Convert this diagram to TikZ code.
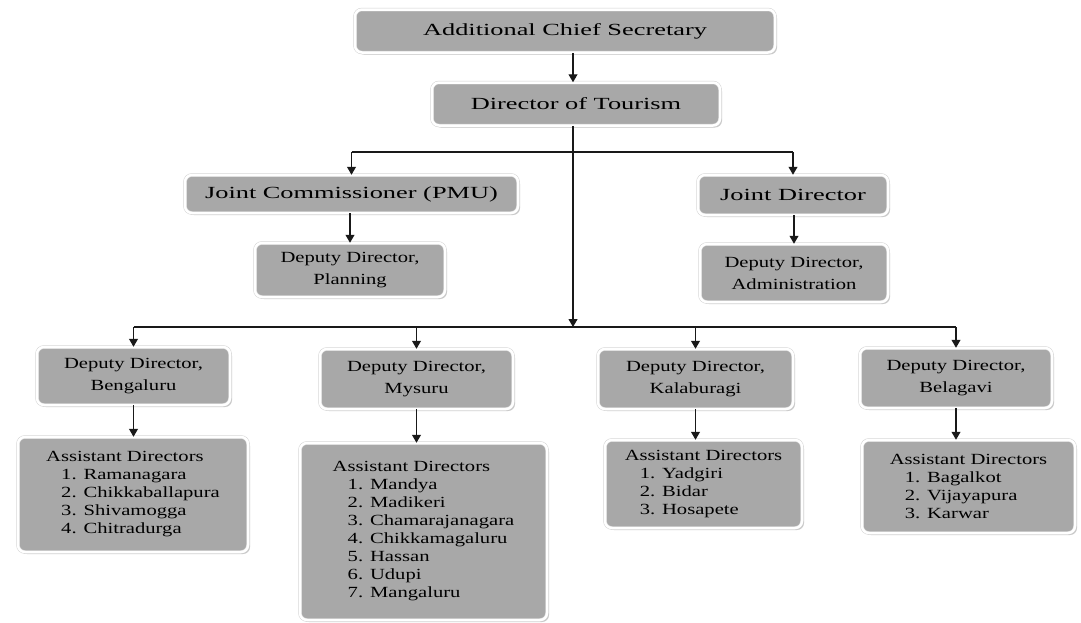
\documentclass[tikz,border=0pt]{standalone}
\usepackage{fontspec}
\setmainfont{Liberation Serif}[FakeStretch=1.33]
\newfontfamily\widefont{Liberation Serif}[FakeStretch=1.55]
\usetikzlibrary{arrows.meta, shadows, positioning}
\def\boxfill{black!34}
\def\topfont{\widefont\fontsize{17}{20}\selectfont}
\def\boxfont{\fontsize{15.5}{22}\selectfont}
\def\listfont{\fontsize{15.5}{18}\selectfont}
\def\listindent{\hspace*{15pt}}
\tikzset{
% Box
box/.style={
	rectangle, rounded corners=7pt,
	fill=\boxfill, draw=black!18, double=white, double distance=2.5pt, line width=0.5pt,
	drop shadow={shadow xshift=2pt, shadow yshift=-2pt, fill=black!35, opacity=0.6},
	inner sep=0pt, align=center,
	},
% Upper offices
topbox/.style={
	box, font=\topfont,
	},
% Deputy Directors
lowbox/.style={
	box, font=\boxfont,
	},
% Assistant Directors
listbox/.style={
	box, font=\listfont, align=left,
	},
% Connection
connection/.style={
	line width=1.1pt, black!90,
	},
% Arrow
arrow/.style={
	connection, -{Triangle[length=8pt, width=9pt]},
	},
}
\begin{document}
\begin{tikzpicture}[x=1pt, y=-1pt]
		\useasboundingbox (0,0) rectangle (1081,622);
		
		% Head office
		\node[topbox, minimum width=420pt, minimum height=43pt]
			 (acs) at (565,31) {Additional Chief Secretary};
		\node[topbox, minimum width=288pt, minimum height=43pt]
			 (dot) at (576,104) {Director of Tourism};
		
		% Joint offices
		\node[topbox, minimum width=333pt, minimum height=38pt]
			 (jc) at (351.5,194) {Joint Commissioner (PMU)};
		\node[topbox, minimum width=190pt, minimum height=40pt]
			 (jd) at (793,195) {Joint Director};
		\node[lowbox, minimum width=190pt, minimum height=54pt]
			 (planning) at (350,270) {Deputy Director,\\Planning};
		\node[lowbox, minimum width=188pt, minimum height=58pt]
			 (admin) at (794,273) {Deputy Director,\\Administration};
		
		% Deputy Directors
		\node[lowbox, minimum width=193pt, minimum height=58pt]
			 (ddbeng) at (133.5,376) {Deputy Director,\\Bengaluru};
		\node[lowbox, minimum width=193pt, minimum height=60pt]
			 (ddmys) at (416.5,379) {Deputy Director,\\Mysuru};
		\node[lowbox, minimum width=195pt, minimum height=60pt]
			 (ddkal) at (695.5,379) {Deputy Director,\\Kalaburagi};
		\node[lowbox, minimum width=192pt, minimum height=60pt]
			 (ddbel) at (956,378) {Deputy Director,\\Belagavi};
		
		% Assistant Directors
		\node[listbox, minimum width=230pt, minimum height=115pt]
			 (adbeng) at (133,494.5) {Assistant Directors\\
			 \listindent 1. Ramanagara\\
			 \listindent 2. Chikkaballapura\\
			 \listindent 3. Shivamogga\\
			 \listindent 4. Chitradurga};
		\node[listbox, minimum width=247pt, minimum height=177pt]
			 (admys) at (423.5,531.5) {Assistant Directors\\
			 \listindent 1. Mandya\\
			 \listindent 2. Madikeri\\
			 \listindent 3. Chamarajanagara\\
			 \listindent 4. Chikkamagaluru\\
			 \listindent 5. Hassan\\
			 \listindent 6. Udupi\\
			 \listindent 7. Mangaluru};
		\node[listbox, minimum width=197pt, minimum height=88pt]
			 (adkal) at (703.5,484) {Assistant Directors\\
			 \listindent 1. Yadgiri\\
			 \listindent 2. Bidar\\
			 \listindent 3. Hosapete};
		\node[listbox, minimum width=213pt, minimum height=93pt]
			 (adbel) at (968.5,486.5) {Assistant Directors\\
			 \listindent 1. Bagalkot\\
			 \listindent 2. Vijayapura\\
			 \listindent 3. Karwar};
		
		% Connections
		\coordinate (spine1) at (573,152);
		\coordinate (spine2) at (573,327);
		
		\draw[arrow] (acs.south -| spine1) -- (dot.north -| spine1);
		\draw[arrow] (dot.south -| spine2) -- (spine2);
		
		% Joint offices
		\draw[connection] (jc.north |- spine1) -- (jd.north |- spine1);
		\draw[arrow] (jc.north |- spine1) -- (jc.north);
		\draw[arrow] (jd.north |- spine1) -- (jd.north);
		\draw[arrow] (planning.north |- jc.south) -- (planning.north);
		\draw[arrow] (admin.north |- jd.south) -- (admin.north);
		
		% Regions
		\draw[connection] (ddbeng.north |- spine2) -- (ddbel.north |- spine2);
		\foreach \dd in {ddbeng, ddmys, ddkal, ddbel}
			\draw[arrow] (\dd.north |- spine2) -- (\dd.north);
		\foreach \dd/\ad in {ddbeng/adbeng, ddmys/admys, ddkal/adkal, ddbel/adbel}
			\draw[arrow] (\dd.south) -- (\dd.south |- \ad.north);
	\end{tikzpicture}
\end{document}
